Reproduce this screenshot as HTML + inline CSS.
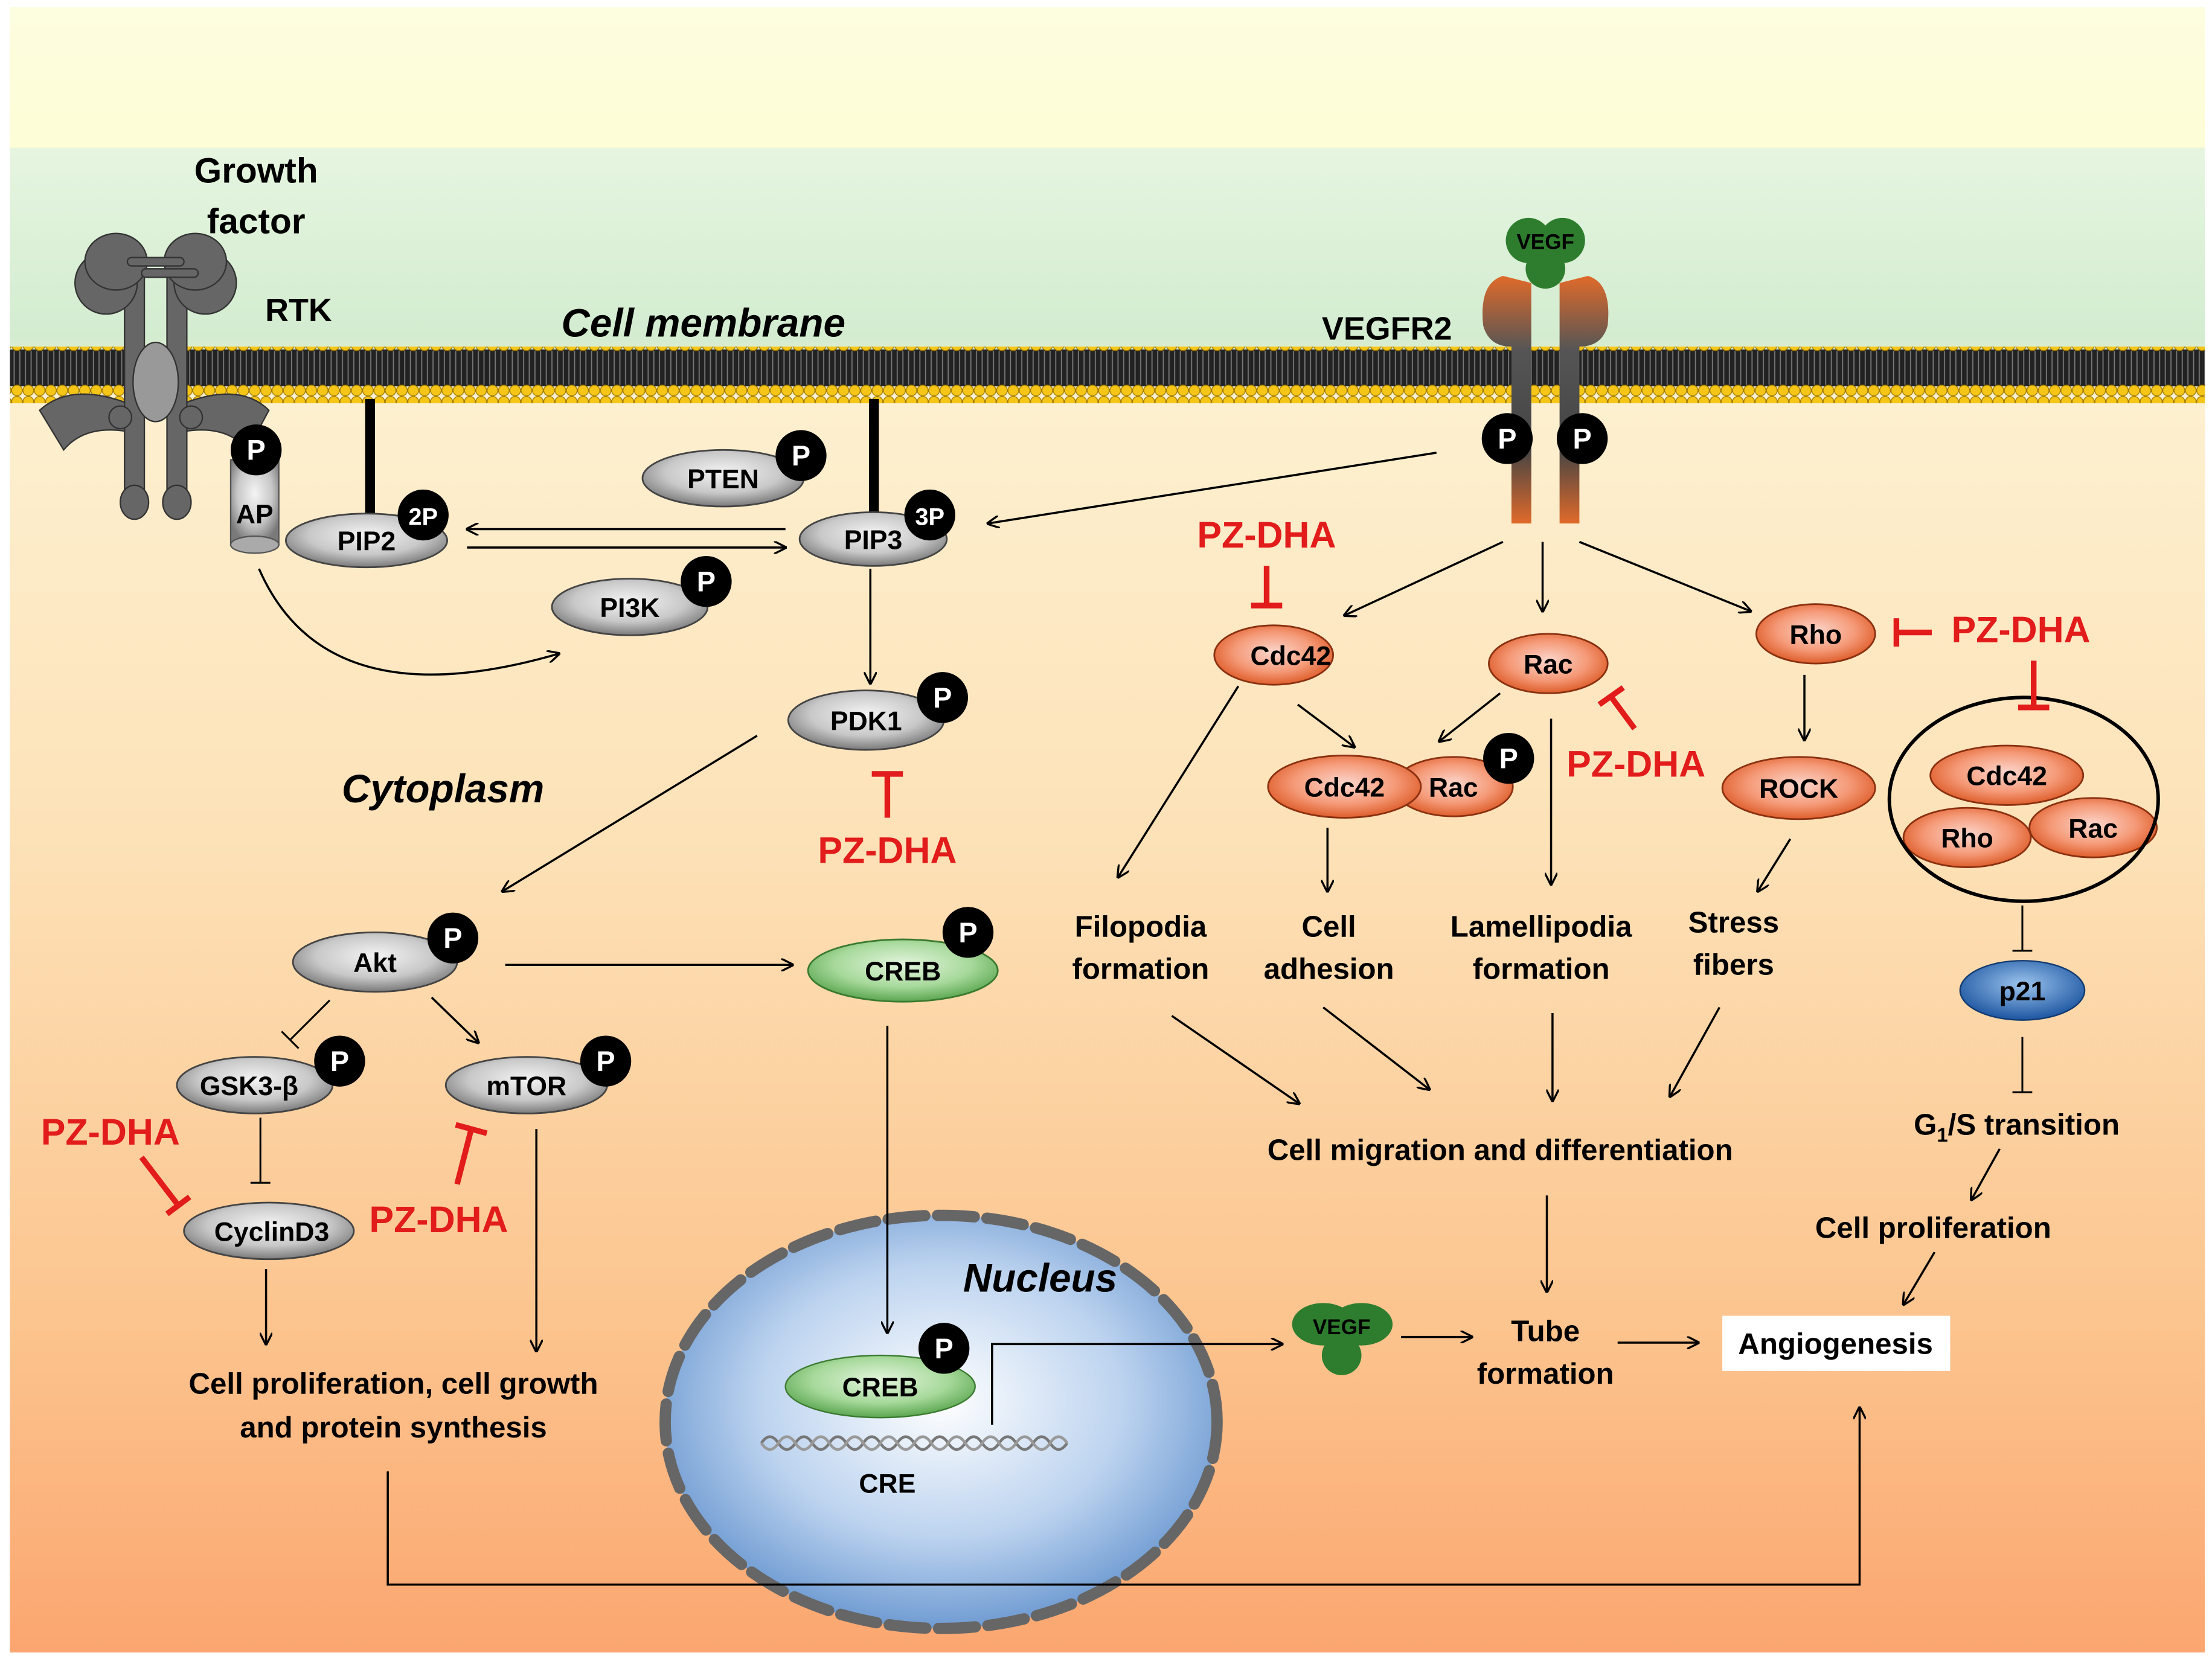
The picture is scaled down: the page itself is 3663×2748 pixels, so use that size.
<!DOCTYPE html>
<html><head><meta charset="utf-8"><style>
html,body{margin:0;padding:0;background:#fff}
svg{display:block}
text{font-family:"Liberation Sans",Arial,sans-serif;font-weight:bold}
</style></head><body>
<svg width="3663" height="2748" viewBox="0 0 1563 1172.6" preserveAspectRatio="none" xmlns="http://www.w3.org/2000/svg">
<defs>
<linearGradient id="bg" x1="0" y1="0" x2="0" y2="1">
<stop offset="0" stop-color="#fdfde0"/>
<stop offset="0.085" stop-color="#fdfdd6"/>
<stop offset="0.086" stop-color="#e6f5e0"/>
<stop offset="0.2" stop-color="#d3ecd0"/>
<stop offset="0.24" stop-color="#fdf0d0"/>
<stop offset="0.5" stop-color="#fde2b8"/>
<stop offset="0.8" stop-color="#fcc48e"/>
<stop offset="1" stop-color="#fba670"/>
</linearGradient>
<radialGradient id="gray" cx="0.5" cy="0.4" r="0.6"><stop offset="0" stop-color="#f4f4f4"/><stop offset="0.6" stop-color="#c8c8c8"/><stop offset="1" stop-color="#7a7a7a"/></radialGradient>
<radialGradient id="org" cx="0.5" cy="0.45" r="0.6"><stop offset="0" stop-color="#fbd6cc"/><stop offset="0.55" stop-color="#f59a78"/><stop offset="1" stop-color="#d9501a"/></radialGradient>
<radialGradient id="grn" cx="0.5" cy="0.4" r="0.6"><stop offset="0" stop-color="#e4f5de"/><stop offset="0.6" stop-color="#a7d99b"/><stop offset="1" stop-color="#5aa650"/></radialGradient>
<radialGradient id="blu" cx="0.5" cy="0.4" r="0.6"><stop offset="0" stop-color="#9cc4ee"/><stop offset="1" stop-color="#1c55a0"/></radialGradient>
<radialGradient id="nuc" cx="0.5" cy="0.45" r="0.55"><stop offset="0" stop-color="#ffffff"/><stop offset="0.6" stop-color="#bcd3ef"/><stop offset="1" stop-color="#6f9bd2"/></radialGradient>
<linearGradient id="rec" x1="0" y1="0" x2="0" y2="1"><stop offset="0" stop-color="#e06a2a"/><stop offset="0.3" stop-color="#555"/><stop offset="0.7" stop-color="#444"/><stop offset="1" stop-color="#e06a2a"/></linearGradient>
<marker id="ar" viewBox="0 0 10 10" refX="9" refY="5" markerWidth="9" markerHeight="9" markerUnits="userSpaceOnUse" orient="auto"><path d="M0,0 L10,5 L0,10" fill="none" stroke="#000" stroke-width="1.6"/></marker>
<pattern id="lip" x="0" y="0" width="8" height="40" patternUnits="userSpaceOnUse">
<rect x="0" y="7" width="8" height="26" fill="#222"/>
<line x1="2" y1="8" x2="2" y2="32" stroke="#777" stroke-width="0.8"/><line x1="6" y1="8" x2="6" y2="32" stroke="#777" stroke-width="0.8"/>
<circle cx="4" cy="4" r="3.8" fill="#f5c518" stroke="#a07a00" stroke-width="0.6"/>
<circle cx="4" cy="36" r="3.8" fill="#f5c518" stroke="#a07a00" stroke-width="0.6"/>
</pattern>
</defs>
<rect x="0" y="0" width="1563" height="1172.6" fill="#fff"/>
<rect x="7" y="5" width="1551" height="1163" fill="url(#bg)"/>
<rect x="7" y="245" width="1551" height="40" fill="url(#lip)"/>

<!-- RTK -->
<g fill="#666" stroke="#333" stroke-width="1">
<path d="M28,290 Q50,270 90,285 L90,305 Q60,300 45,318 Z"/>
<path d="M190,290 Q170,270 130,285 L130,305 Q160,300 175,318 Z"/>
<rect x="88" y="195" width="14" height="155"/><rect x="118" y="195" width="14" height="155"/>
<ellipse cx="75" cy="200" rx="22" ry="22"/><ellipse cx="145" cy="200" rx="22" ry="22"/>
<ellipse cx="82" cy="185" rx="22" ry="20"/><ellipse cx="138" cy="185" rx="22" ry="20"/>
<rect x="90" y="182" width="40" height="6" rx="3"/><rect x="100" y="190" width="40" height="6" rx="3"/>
<ellipse cx="95" cy="355" rx="10" ry="12"/><ellipse cx="125" cy="355" rx="10" ry="12"/>
<ellipse cx="110" cy="270" rx="16" ry="28" fill="#999"/>
<circle cx="85" cy="295" r="8"/><circle cx="135" cy="295" r="8"/>
</g>
<text x="181" y="129" font-size="25" text-anchor="middle">Growth</text>
<text x="181" y="165" font-size="25" text-anchor="middle">factor</text>
<text x="211" y="227" font-size="23" text-anchor="middle">RTK</text>
<text x="497" y="238" font-size="28" font-style="italic" text-anchor="middle">Cell membrane</text>

<!-- AP -->
<rect x="163" y="325" width="34" height="60" fill="url(#gray)" stroke="#555"/>
<ellipse cx="180" cy="385" rx="17" ry="6" fill="#aaa" stroke="#555"/>
<text x="180" y="370" font-size="19" text-anchor="middle">AP</text>

<rect x="258" y="282" width="7" height="85" fill="#000"/>
<rect x="614" y="282" width="7" height="85" fill="#000"/>

<g stroke="#444" stroke-width="1.2">
<ellipse cx="511" cy="338" rx="57" ry="20" fill="url(#gray)"/>
<ellipse cx="259" cy="382" rx="57" ry="19" fill="url(#gray)"/>
<ellipse cx="617" cy="381" rx="52" ry="19" fill="url(#gray)"/>
<ellipse cx="445" cy="429" rx="55" ry="20" fill="url(#gray)"/>
<ellipse cx="612" cy="509" rx="55" ry="21" fill="url(#gray)"/>
<ellipse cx="265" cy="680" rx="58" ry="21" fill="url(#gray)"/>
<ellipse cx="180" cy="767" rx="55" ry="20" fill="url(#gray)"/>
<ellipse cx="372" cy="767" rx="57" ry="20" fill="url(#gray)"/>
<ellipse cx="190" cy="870" rx="60" ry="20" fill="url(#gray)"/>
</g>
<g font-size="19" text-anchor="middle">
<text x="511" y="345">PTEN</text><text x="259" y="389">PIP2</text><text x="617" y="388">PIP3</text>
<text x="445" y="436">PI3K</text><text x="612" y="516">PDK1</text><text x="265" y="687">Akt</text>
<text x="176" y="774">GSK3-β</text><text x="372" y="774">mTOR</text><text x="192" y="877">CyclinD3</text>
</g>

<ellipse cx="638" cy="686" rx="67" ry="22" fill="url(#grn)" stroke="#3a7a30" stroke-width="1.2"/>
<text x="638" y="693" font-size="19" text-anchor="middle">CREB</text>

<!-- nucleus -->
<ellipse cx="665" cy="1005" rx="195" ry="146" fill="url(#nuc)"/>
<ellipse cx="665" cy="1005" rx="195" ry="146" fill="none" stroke="#666" stroke-width="8" stroke-dasharray="26 9" stroke-linecap="round"/>
<text x="735" y="913" font-size="28" font-style="italic" text-anchor="middle">Nucleus</text>
<ellipse cx="622" cy="980" rx="67" ry="22" fill="url(#grn)" stroke="#3a7a30"/>
<text x="622" y="987" font-size="19" text-anchor="middle">CREB</text>
<path d="M538,1020 q6,-9 12,0 t12,0 t12,0 t12,0 t12,0 t12,0 t12,0 t12,0 t12,0 t12,0 t12,0 t12,0 t12,0 t12,0 t12,0 t12,0 t12,0 t12,0" fill="none" stroke="#777" stroke-width="2"/>
<path d="M538,1020 q6,9 12,0 t12,0 t12,0 t12,0 t12,0 t12,0 t12,0 t12,0 t12,0 t12,0 t12,0 t12,0 t12,0 t12,0 t12,0 t12,0 t12,0 t12,0" fill="none" stroke="#999" stroke-width="2"/>
<text x="627" y="1055" font-size="19" text-anchor="middle">CRE</text>

<!-- VEGFR2 -->
<path d="M1062,195 Q1045,200 1048,230 Q1052,245 1068,245 L1068,370 L1082,370 L1082,200 Z" fill="url(#rec)"/>
<path d="M1122,195 Q1139,200 1136,230 Q1132,245 1116,245 L1116,370 L1102,370 L1102,200 Z" fill="url(#rec)"/>
<g fill="#2e7d2e"><circle cx="1080" cy="170" r="16"/><circle cx="1104" cy="170" r="16"/><circle cx="1092" cy="190" r="14"/></g>
<text x="1092" y="176" font-size="15" text-anchor="middle">VEGF</text>
<text x="980" y="240" font-size="23" text-anchor="middle">VEGFR2</text>

<g fill="#2e7d2e"><ellipse cx="935" cy="936" rx="22" ry="15"/><ellipse cx="962" cy="936" rx="22" ry="15"/><circle cx="948" cy="958" r="14"/></g>
<text x="948" y="943" font-size="15" text-anchor="middle">VEGF</text>

<g stroke="#8a3010" stroke-width="1.2">
<ellipse cx="900" cy="463" rx="42" ry="21" fill="url(#org)"/>
<ellipse cx="1094" cy="469" rx="42" ry="21" fill="url(#org)"/>
<ellipse cx="1283" cy="448" rx="42" ry="21" fill="url(#org)"/>
<ellipse cx="1027" cy="556" rx="42" ry="21" fill="url(#org)"/>
<ellipse cx="950" cy="556" rx="54" ry="22" fill="url(#org)"/>
<ellipse cx="1271" cy="557" rx="54" ry="22" fill="url(#org)"/>
<ellipse cx="1418" cy="548" rx="54" ry="21" fill="url(#org)"/>
<ellipse cx="1390" cy="592" rx="45" ry="21" fill="url(#org)"/>
<ellipse cx="1479" cy="585" rx="45" ry="21" fill="url(#org)"/>
</g>
<ellipse cx="1430" cy="565" rx="95" ry="72" fill="none" stroke="#000" stroke-width="2.5"/>
<ellipse cx="1429" cy="700" rx="44" ry="21" fill="url(#blu)" stroke="#113a70"/>
<g font-size="19" text-anchor="middle">
<text x="912" y="470">Cdc42</text><text x="1094" y="476">Rac</text><text x="1283" y="455">Rho</text>
<text x="1027" y="563">Rac</text><text x="950" y="563">Cdc42</text><text x="1271" y="564">ROCK</text>
<text x="1418" y="555">Cdc42</text><text x="1390" y="599">Rho</text><text x="1479" y="592">Rac</text>
<text x="1429" y="707">p21</text>
</g>

<g fill="#000">
<circle cx="181" cy="318" r="18"/><circle cx="566" cy="322" r="18"/><circle cx="299" cy="364" r="18"/>
<circle cx="657" cy="364" r="18"/><circle cx="499" cy="411" r="18"/><circle cx="666" cy="493" r="18"/>
<circle cx="320" cy="663" r="18"/><circle cx="240" cy="750" r="18"/><circle cx="428" cy="750" r="18"/>
<circle cx="684" cy="659" r="18"/><circle cx="667" cy="953" r="18"/><circle cx="1066" cy="536" r="18"/>
<circle cx="1065" cy="310" r="18"/><circle cx="1118" cy="310" r="18"/>
</g>
<g fill="#fff" font-size="20" text-anchor="middle">
<text x="181" y="325">P</text><text x="566" y="329">P</text><text x="299" y="371" font-size="17">2P</text>
<text x="657" y="371" font-size="17">3P</text><text x="499" y="418">P</text><text x="666" y="500">P</text>
<text x="320" y="670">P</text><text x="240" y="757">P</text><text x="428" y="757">P</text>
<text x="684" y="666">P</text><text x="667" y="960">P</text><text x="1066" y="543">P</text>
<text x="1065" y="317">P</text><text x="1118" y="317">P</text>
</g>

<g stroke="#000" stroke-width="1.5" fill="none" marker-end="url(#ar)">
<line x1="555" y1="374" x2="330" y2="374"/>
<line x1="330" y1="387" x2="555" y2="387"/>
<path d="M183,402 Q230,510 395,462"/>
<line x1="1015" y1="320" x2="698" y2="370"/>
<line x1="615" y1="402" x2="615" y2="483"/>
<line x1="535" y1="520" x2="355" y2="630"/>
<line x1="357" y1="682" x2="560" y2="682"/>
<line x1="305" y1="705" x2="338" y2="737"/>
<line x1="627" y1="725" x2="627" y2="942"/>
<line x1="188" y1="897" x2="188" y2="950"/>
<line x1="379" y1="798" x2="379" y2="955"/>
<path d="M701,1007 L701,950 L906,950"/>
<line x1="990" y1="945" x2="1040" y2="945"/>
<line x1="1143" y1="949" x2="1200" y2="949"/>
<path d="M274,1040 L274,1120 L1314,1120 L1314,995"/>
<line x1="1062" y1="383" x2="950" y2="435"/>
<line x1="1090" y1="383" x2="1090" y2="432"/>
<line x1="1116" y1="383" x2="1237" y2="432"/>
<line x1="875" y1="485" x2="790" y2="620"/>
<line x1="917" y1="498" x2="957" y2="528"/>
<line x1="1060" y1="490" x2="1017" y2="524"/>
<line x1="1096" y1="508" x2="1096" y2="625"/>
<line x1="938" y1="585" x2="938" y2="630"/>
<line x1="1275" y1="477" x2="1275" y2="523"/>
<line x1="1265" y1="593" x2="1242" y2="630"/>
<line x1="828" y1="718" x2="918" y2="780"/>
<line x1="935" y1="712" x2="1010" y2="770"/>
<line x1="1097" y1="716" x2="1097" y2="778"/>
<line x1="1215" y1="712" x2="1180" y2="775"/>
<line x1="1093" y1="845" x2="1093" y2="913"/>
<line x1="1413" y1="812" x2="1393" y2="848"/>
<line x1="1367" y1="885" x2="1345" y2="922"/>
</g>
<g stroke="#000" stroke-width="1.3">
<line x1="233" y1="707" x2="205" y2="735"/><line x1="199" y1="729" x2="211" y2="741"/>
<line x1="184" y1="790" x2="184" y2="836"/><line x1="177" y1="836" x2="191" y2="836"/>
<line x1="1429" y1="640" x2="1429" y2="672"/><line x1="1422" y1="672" x2="1436" y2="672"/>
<line x1="1429" y1="733" x2="1429" y2="772"/><line x1="1422" y1="772" x2="1436" y2="772"/>
</g>
<g stroke="#e21b1b" stroke-width="4">
<line x1="895" y1="400" x2="895" y2="428"/><line x1="884" y1="428" x2="906" y2="428"/>
<line x1="627" y1="578" x2="627" y2="547"/><line x1="616" y1="547" x2="638" y2="547"/>
<line x1="1155" y1="515" x2="1138" y2="492"/><line x1="1130" y1="498" x2="1147" y2="486"/>
<line x1="1365" y1="447" x2="1340" y2="447"/><line x1="1340" y1="437" x2="1340" y2="457"/>
<line x1="1437" y1="467" x2="1437" y2="500"/><line x1="1426" y1="500" x2="1448" y2="500"/>
<line x1="100" y1="818" x2="126" y2="852"/><line x1="118" y1="858" x2="134" y2="846"/>
<line x1="323" y1="837" x2="333" y2="798"/><line x1="322" y1="795" x2="344" y2="801"/>
</g>
<g fill="#e21b1b" font-size="26" text-anchor="middle">
<text x="895" y="387">PZ-DHA</text><text x="627" y="610">PZ-DHA</text><text x="78" y="809">PZ-DHA</text>
<text x="310" y="871">PZ-DHA</text><text x="1156" y="549">PZ-DHA</text><text x="1428" y="454">PZ-DHA</text>
</g>

<text x="313" y="567" font-size="28" font-style="italic" text-anchor="middle">Cytoplasm</text>
<g font-size="21" text-anchor="middle">
<text x="806" y="662">Filopodia</text><text x="806" y="692">formation</text>
<text x="939" y="662">Cell</text><text x="939" y="692">adhesion</text>
<text x="1089" y="662">Lamellipodia</text><text x="1089" y="692">formation</text>
<text x="1225" y="659">Stress</text><text x="1225" y="689">fibers</text>
<text x="1060" y="820">Cell migration and differentiation</text>
<text x="1425" y="802">G<tspan font-size="14" dy="5">1</tspan><tspan dy="-5">/S transition</tspan></text>
<text x="1366" y="875">Cell proliferation</text>
<text x="278" y="985">Cell proliferation, cell growth</text>
<text x="278" y="1016">and protein synthesis</text>
<text x="1092" y="948">Tube</text><text x="1092" y="978">formation</text>
</g>
<rect x="1217" y="930" width="161" height="39" fill="#fff"/>
<text x="1297" y="957" font-size="21" text-anchor="middle">Angiogenesis</text>
</svg>
</body></html>
